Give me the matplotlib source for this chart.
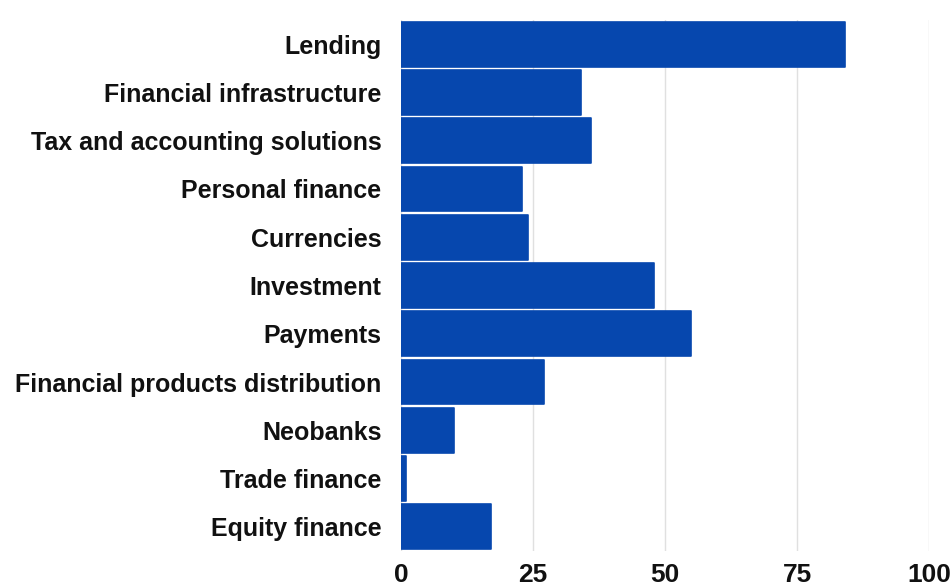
import matplotlib.pyplot as plt

plt.rcParams['font.family'] = ['Liberation Sans', 'DejaVu Sans']

categories = ['Lending', 'Financial infrastructure', 'Tax and accounting solutions',
              'Personal finance', 'Currencies', 'Investment', 'Payments',
              'Financial products distribution', 'Neobanks', 'Trade finance',
              'Equity finance']
values = [84, 34, 36, 23, 24, 48, 55, 27, 10, 1, 17]
xticks = [0, 25, 50, 75, 100]

fig = plt.figure(figsize=(9.51, 5.87), dpi=100)
ax = fig.add_axes([401 / 951, 36 / 587, 528 / 951, 531 / 587])

pos = list(range(len(categories)))
bars = ax.barh(pos, values, height=0.93, color='#0647ae', edgecolor='#0647ae',
               linewidth=1.2, zorder=3)
for b in bars:
    b.set_joinstyle('round')

ax.set_ylim(len(categories) - 0.5, -0.5)
ax.set_xlim(0, 100)
ax.set_yticks(pos)
ax.set_yticklabels(categories, fontsize=18, fontweight='bold', color='#111111')
ax.set_xticks(xticks)
ax.set_xticklabels([str(t) for t in xticks], fontsize=19, fontweight='bold', color='#111111')
ax.tick_params(axis='both', length=0)
ax.tick_params(axis='y', pad=14)
ax.tick_params(axis='x', pad=9)
ax.grid(axis='x', color='#e0e0e0', linewidth=1, zorder=0)
for s in ax.spines.values():
    s.set_visible(False)

fig.savefig('out.png', dpi=100)
